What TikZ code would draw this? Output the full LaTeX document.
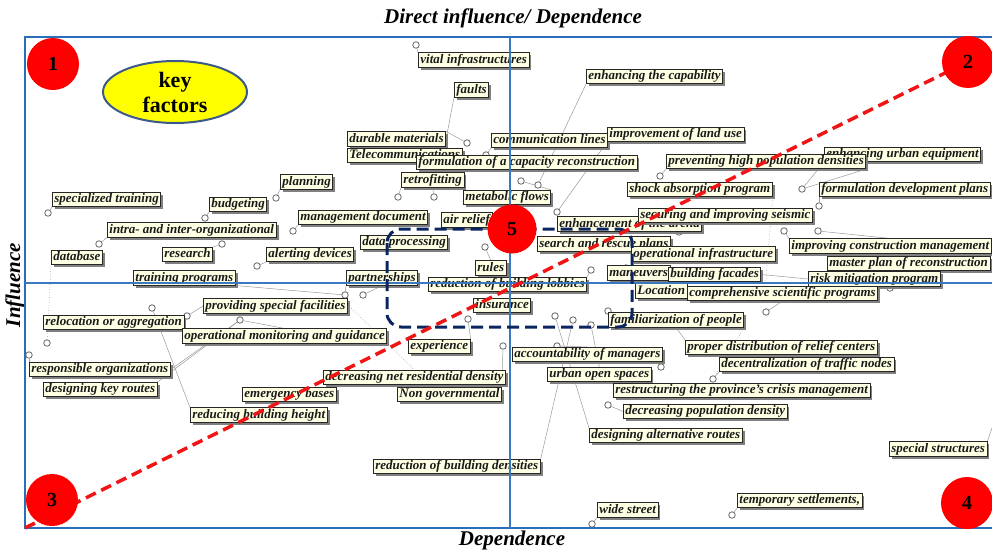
\documentclass[tikz,border=0pt]{standalone}
\usepackage{fontspec}
\setmainfont{Liberation Serif}
\usetikzlibrary{shadows}
\pgfdeclarelayer{leads}
\pgfsetlayers{leads,main}
\definecolor{cream}{HTML}{FFFFE3}
\definecolor{axblue}{HTML}{3A78C2}
\definecolor{frblue}{HTML}{2A6EBB}
\definecolor{navy}{HTML}{0B2560}
\definecolor{rred}{HTML}{F01515}
\definecolor{kyell}{HTML}{FFFF00}
\definecolor{kbord}{HTML}{3B5A8A}
\newcommand\labfont{\fontsize{13}{15}\selectfont\bfseries\itshape}
\tikzset{
  lab/.style={draw=black!85, line width=0.8pt, fill=cream, font=\labfont, text=black!90,
    inner xsep=2pt, inner ysep=1pt, text height=9.5pt, text depth=2.8pt, anchor=west,
    drop shadow={shadow xshift=2.4pt, shadow yshift=-2.4pt, fill=black!50, opacity=1}},
  pinc/.style={circle, draw=black!60, fill=white, line width=0.8pt, minimum size=6.5pt, inner sep=0pt},
  lead/.style={draw=black!40, line width=0.5pt},
  dlead/.style={draw=black!40, line width=0.6pt, dotted},
  numc/.style={circle, fill=red, minimum size=52pt, inner sep=0pt, font=\fontsize{20}{22}\selectfont\bfseries},
  axtitle/.style={font=\fontsize{21}{23}\selectfont\bfseries\itshape}
}
\begin{document}
\begin{tikzpicture}[x=1pt,y=-1pt]
\useasboundingbox (0,0) rectangle (992,549);
% axis titles
\node[axtitle] (ttop) at (513,18) {Direct influence/ Dependence};
\node[axtitle] (tbot) at (512,540) {Dependence};
\node[axtitle, rotate=90] (tleft) at (15,285) {Influence};
% pins
\node[pinc] (p1) at (416,45) {};
\node[pinc] (p2) at (467,143) {};
\node[pinc] (p3) at (486,155) {};
\node[pinc] (p4) at (521,181) {};
\node[pinc] (p5) at (538,185) {};
\node[pinc] (p6) at (398,197) {};
\node[pinc] (p7) at (434,197) {};
\node[pinc] (p8) at (557,212) {};
\node[pinc] (p9) at (276,198) {};
\node[pinc] (p10) at (205,218) {};
\node[pinc] (p11) at (48,213) {};
\node[pinc] (p12) at (99,244) {};
\node[pinc] (p13) at (222,244) {};
\node[pinc] (p14) at (293,231) {};
\node[pinc] (p15) at (257,266) {};
\node[pinc] (p16) at (345,295) {};
\node[pinc] (p17) at (363,295) {};
\node[pinc] (p18) at (47,343) {};
\node[pinc] (p19) at (152,308) {};
\node[pinc] (p20) at (187,316) {};
\node[pinc] (p21) at (240,320) {};
\node[pinc] (p22) at (29,355) {};
\node[pinc] (p23) at (345,302) {};
\node[pinc] (p24) at (485,247) {};
\node[pinc] (p25) at (468,319) {};
\node[pinc] (p26) at (503,346) {};
\node[pinc] (p27) at (555,316) {};
\node[pinc] (p28) at (573,320) {};
\node[pinc] (p29) at (591,325) {};
\node[pinc] (p30) at (557,346) {};
\node[pinc] (p31) at (591,270) {};
\node[pinc] (p32) at (626,268) {};
\node[pinc] (p33) at (608,311) {};
\node[pinc] (p34) at (679,232) {};
\node[pinc] (p35) at (765,290) {};
\node[pinc] (p36) at (766,312) {};
\node[pinc] (p37) at (784,231) {};
\node[pinc] (p38) at (818,231) {};
\node[pinc] (p39) at (890,288) {};
\node[pinc] (p40) at (660,176) {};
\node[pinc] (p41) at (802,189) {};
\node[pinc] (p42) at (819,206) {};
\node[pinc] (p43) at (713,379) {};
\node[pinc] (p44) at (661,367) {};
\node[pinc] (p45) at (608,405) {};
\node[pinc] (p46) at (592,524) {};
\node[pinc] (p47) at (732,515) {};
\coordinate (c1) at (992,428);
\coordinate (c2) at (447,134);
% labels
\node[lab] (nvital) at (418,60) {vital infrastructures};
\node[lab] (nfaults) at (454,90) {faults};
\node[lab] (ncap) at (586,76.5) {enhancing the capability};
\node[lab] (ndur) at (347,139) {durable materials};
\node[lab] (ntele) at (347,155.5) {Telecommunications};
\node[lab] (ncomm) at (491,140.5) {communication lines};
\node[lab] (nland) at (607,134.5) {improvement of land use};
\node[lab] (nform) at (416,162.5) {formulation of a capacity reconstruction};
\node[lab] (nurb) at (824,154.5) {enhancing urban equipment};
\node[lab] (nprev) at (666,161.5) {preventing high population densities};
\node[lab] (nretro) at (401,180) {retrofitting};
\node[lab] (nshock) at (627,189.5) {shock absorption program};
\node[lab] (nfdp) at (819,189.5) {formulation development plans};
\node[lab] (nplan) at (280,182) {planning};
\node[lab] (nmeta) at (463,197.5) {metabolic flows};
\node[lab] (nspec) at (52,199.5) {specialized training};
\node[lab] (nbudg) at (209,204.5) {budgeting};
\node[lab] (nmgmt) at (298,217.5) {management document};
\node[lab] (nair) at (441,220) {air relief};
\node[lab] (narena) at (557,224) {enhancement of the arena};
\node[lab] (nsecu) at (638,215.5) {securing and improving seismic};
\node[lab] (nintra) at (107,230) {intra- and inter-organizational};
\node[lab] (ndata) at (360,242.5) {data processing};
\node[lab] (nsearch) at (537,244) {search and rescue plans};
\node[lab] (nicm) at (789,246) {improving construction management};
\node[lab] (nopinf) at (631,254) {operational infrastructure};
\node[lab] (nres) at (162,254.5) {research};
\node[lab] (nalert) at (266,254.5) {alerting devices};
\node[lab] (ndb) at (51,257.5) {database};
\node[lab] (nmaster) at (827,263.5) {master plan of reconstruction};
\node[lab] (nrules) at (475,268) {rules};
\node[lab] (nmanv) at (607,273) {maneuvers};
\node[lab] (nfac) at (668,274.5) {building facades};
\node[lab] (ntrain) at (133,278) {training programs};
\node[lab] (npart) at (346,278) {partnerships};
\node[lab] (nrisk) at (808,279) {risk mitigation program};
\node[lab] (nlobby) at (428,284.5) {reduction of building lobbies};
\node[lab] (nloc) at (635,291) {Location};
\node[lab] (ncsp) at (687,293.5) {comprehensive scientific programs};
\node[lab] (nins) at (473,305.5) {insurance};
\node[lab] (nprov) at (203,306) {providing special facilities};
\node[lab] (nfam) at (608,320) {familiarization of people};
\node[lab] (nreloc) at (43,322.5) {relocation or aggregation};
\node[lab] (nopmon) at (182,336) {operational monitoring and guidance};
\node[lab] (nexp) at (408,346.5) {experience};
\node[lab] (nprop) at (685,347.5) {proper distribution of relief centers};
\node[lab] (nacc) at (512,354.5) {accountability of managers};
\node[lab] (ndec) at (719,364.5) {decentralization of traffic nodes};
\node[lab] (nresp) at (29,369.5) {responsible organizations};
\node[lab] (nuos) at (547,374.5) {urban open spaces};
\node[lab] (nnet) at (323,377.5) {decreasing net residential density};
\node[lab] (nkey) at (43,389.5) {designing key routes};
\node[lab] (nrestr) at (613,390.5) {restructuring the province's crisis management};
\node[lab] (nemerg) at (242,394.5) {emergency bases};
\node[lab] (nnongov) at (397,394.5) {Non governmental};
\node[lab] (ndpd) at (623,411.5) {decreasing population density};
\node[lab] (nheight) at (190,415) {reducing building height};
\node[lab] (ndar) at (589,435.5) {designing alternative routes};
\node[lab] (nspst) at (889,449) {special structures};
\node[lab] (nbdens) at (373,466.5) {reduction of building densities};
\node[lab] (ntemp) at (737,500.5) {temporary settlements,};
\node[lab] (nwide) at (597,510) {wide street};
% leader lines, under pins and labels
\begin{pgfonlayer}{leads}
\draw[lead] (p1) -- (nvital.north west);
\draw[lead] (c2) -- (nfaults.south west);
\draw[lead] (p2) -- (ndur.north east);
\draw[lead] (p3) -- (ncomm.south west);
\draw[lead] (p4) -- (nmeta.north east);
\draw[lead] (p5) -- (ncap.south west);
\draw[lead] (p6) -- (nretro.south west);
\draw[lead] (p7) -- (nretro.south);
\draw[lead] (p8) -- (nland.south west);
\draw[lead] (p9) -- (nplan.south west);
\draw[lead] (p10) -- (nbudg.south west);
\draw[lead] (p11) -- (nspec.south west);
\draw[lead] (p12) -- (nintra.south west);
\draw[lead] (p13) -- (nres.north east);
\draw[lead] (p14) -- (nmgmt.south west);
\draw[lead] (p15) -- (nalert.south west);
\draw[lead] (p16) -- (ntrain.south east);
\draw[lead] (p16) -- (npart.south west);
\draw[lead] (p17) -- (npart.south);
\draw[dlead] (p18) -- (ndb.south west);
\draw[lead] (p19) -- (nheight.north west);
\draw[lead] (p20) -- (nprov.west);
\draw[lead] (p20) -- (nreloc.east);
\draw[lead] (p21) -- (nresp.east);
\draw[lead] (p21) -- (nkey.north east);
\draw[lead] (p21) -- (nopmon.north);
\draw[lead] (p22) -- (nresp.north west);
\draw[dlead] (p23) -- (nnet.north);
\draw[lead] (p24) -- (nrules.north);
\draw[lead] (p25) -- (nexp.north east);
\draw[lead] (p26) -- (nnongov.north east);
\draw[lead] (p27) -- (ndar.north west);
\draw[lead] (p28) -- (nbdens.north east);
\draw[lead] (p29) -- (nuos.north);
\draw[lead] (p30) -- (nacc.north);
\draw[lead] (p31) -- (nlobby.north east);
\draw[lead] (p32) -- (nmanv.north);
\draw[lead] (p33) -- (nfam.north west);
\draw[lead] (p34) -- (narena.south east);
\draw[dlead] (p35) -- (nshock.south east);
\draw[lead] (p36) -- (ncsp.south);
\draw[lead] (p37) -- (nicm.north west);
\draw[lead] (p38) -- (nicm.north);
\draw[lead] (p39) -- (nrisk.south east);
\draw[lead] (p40) -- (nprev.south west);
\draw[lead] (p41) -- (nprev.south east);
\draw[lead] (p41) -- (nurb.south west);
\draw[lead] (p42) -- (nfdp.south west);
\draw[lead] (p43) -- (ndec.south west);
\draw[dlead] (p43) -- (nfam.south east);
\draw[lead] (p44) -- (nacc.south east);
\draw[lead] (p45) -- (ndpd.west);
\draw[lead] (p46) -- (nwide.south west);
\draw[lead] (p47) -- (ntemp.south west);
\draw[lead] (c1) -- (nspst.north east);
\draw[lead] (nfam.south) -- (nprop.north west);
\draw[lead] (nfac.east) -- (nrisk.west);
\end{pgfonlayer}
% frame and axes
\draw[frblue, line width=2pt] (994,37) -- (25,37) -- (25,528) -- (994,528);
\draw[axblue, line width=1.1pt] (510,37) -- (510,528);
\draw[axblue, line width=1.1pt] (25,283) -- (994,283);
% key factors ellipse
\draw[kbord, line width=2pt, fill=kyell] (175,92) ellipse [x radius=72, y radius=31];
\node[align=center, font=\fontsize{22}{25}\selectfont\bfseries] (kf) at (175,92) {key\\factors};
% dashed region
\draw[navy, line width=3pt, dash pattern=on 12pt off 6pt, rounded corners=14pt] (387,229) rectangle (632,327);
% diagonal
\coordinate (d0) at (25,528);
\coordinate (d1) at (945,73);
\draw[rred, line width=3.5pt, dash pattern=on 11pt off 6pt] (d0) -- (d1);
% numbered circles
\node[numc] (c1n) at (53,64) {1};
\node[numc] (c2n) at (968,62) {2};
\node[numc] (c3n) at (52,500) {3};
\node[numc] (c4n) at (967,503) {4};
\node[numc, minimum size=49pt] (c5n) at (512,229) {5};
\end{tikzpicture}
\end{document}
